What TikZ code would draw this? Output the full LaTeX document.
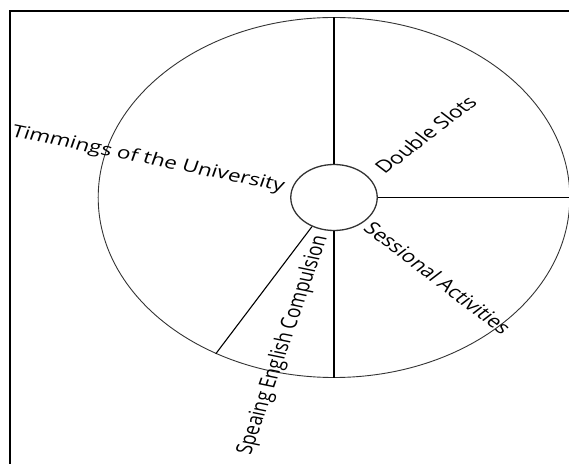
\documentclass[tikz,border=0pt]{standalone}
\usepackage{fontspec}
\setmainfont{Open Sans}
\begin{document}
\begin{tikzpicture}[x=1bp,y=1bp,
  ring/.style={circle, draw=black!80, line width=0.9bp, inner sep=0pt, transform shape},
  spoke/.style={draw=black, line width=1.1bp},
  lbl/.style={inner sep=0pt, transform shape, font=\fontsize{17.3}{19}\selectfont, text=black}]
\useasboundingbox (-334,-266.5) rectangle (235,197.5);
\begin{scope}
\clip (-334,-266.5) rectangle (235,197.5);
\draw[line width=2bp] (-324,186.5) rectangle (300,-300);
\end{scope}
\begin{scope}[xscale=1.31]
\node[ring, minimum size=360bp] (rim) at (0,0) {};
\node[ring, minimum size=66bp, line width=1.3bp] (hub) at (0,0) {};
\draw[spoke] (hub.90) -- (rim.90);
\draw[spoke] (hub.0) -- (rim.0);
\draw[spoke] (hub.270) -- (rim.270);
\draw[spoke] (hub.240) -- (rim.240);
\node[lbl, rotate=-15] (t1) at (165:147) {Timmings of the University};
\node[lbl, rotate=45] (t2) at (42:94) {Double Slots};
\node[lbl, rotate=-45] (t3) at (-45.4:113) {Sessional Activities};
\node[lbl, rotate=75] (t4) at (255.3:152.5) {Speaing English Compulsion};
\end{scope}
\end{tikzpicture}
\end{document}
